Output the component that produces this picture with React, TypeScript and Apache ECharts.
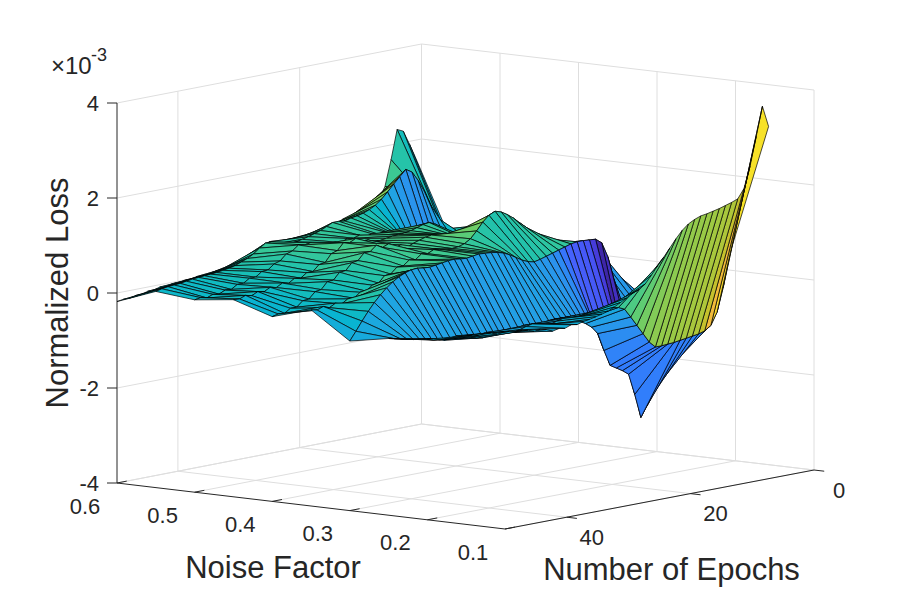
import React, { useEffect, useRef } from "react";
import * as echarts from "echarts";

// ---------- data ----------
const NOISE_LEVELS = [0.15, 0.2, 0.25, 0.3, 0.35, 0.4, 0.45, 0.5, 0.55, 0.6];
const EPOCHS = [1, 2, 3, 4, 5, 6, 7, 8, 9, 10, 11, 12, 13, 14, 15, 16, 17, 18, 19, 20, 21, 22, 23, 24, 25, 26, 27, 28, 29, 30, 31, 32, 33, 34, 35, 36, 37, 38, 39, 40, 41, 42, 43, 44, 45, 46, 47, 48, 49, 50];

// normalized loss (x 1e-3): one row per noise factor, one value per epoch
const LOSS_N015 = [3.16, 3.61, 3.0, 2.4, 1.95, 1.76, 1.71, 1.67, 1.63, 1.6, 1.57, 1.55, 1.5, 1.43, 1.32, 1.17, 1.0, 0.83, 0.67, 0.5, 0.34, 0.25, 0.2, 0.12, 0.05, -0.02, -0.08, -0.12, -0.15, -0.18, -0.2, -0.24, -0.22, -0.27, -0.25, -0.28, -0.22, -0.19, -0.21, -0.16, -0.14, -0.15, -0.11, -0.1, -0.12, -0.07, -0.05, -0.07, -0.04, -0.03];
const LOSS_N020 = [0.35, -0.3, -0.8, -1.05, -1.14, -1.18, -1.2, -1.22, -1.24, -1.26, -1.27, -1.28, -1.28, -1.15, -0.95, -0.75, -0.55, -0.36, -0.3, -0.28, -0.3, -0.33, -0.31, -0.29, -0.32, -0.35, -0.33, -0.31, -0.34, -0.38, -0.36, -0.32, -0.3, -0.33, -0.37, -0.4, -0.38, -0.35, -0.33, -0.36, -0.39, -0.37, -0.34, -0.31, -0.3, -0.28, -0.27, -0.26, -0.24, -0.2];
const LOSS_N025 = [-1.65, -1.66, -1.68, -1.9, -2.1, -2.32, -2.52, -2.74, -2.96, -2.45, -2.0, -1.9, -1.82, -1.74, -1.4, -1.02, -0.86, -0.76, -0.68, -0.62, -0.58, -0.55, -0.54, -0.55, -0.57, -0.58, -0.56, -0.55, -0.57, -0.6, -0.62, -0.6, -0.57, -0.55, -0.56, -0.58, -0.55, -0.52, -0.5, -0.52, -0.54, -0.5, -0.47, -0.45, -0.42, -0.4, -0.37, -0.34, -0.31, -0.28];
const LOSS_N030 = [-0.75, -0.72, -0.7, -0.68, -0.66, -0.65, -0.2, 0.3, 0.62, 0.72, 0.73, 0.74, 0.74, 0.72, 0.68, 0.64, 0.6, 0.56, 0.52, 0.49, 0.52, 0.58, 0.66, 0.74, 0.8, 0.84, 0.86, 0.87, 0.88, 0.86, 0.84, 0.85, 0.87, 0.86, 0.84, 0.82, 0.8, 0.81, 0.83, 0.82, 0.78, 0.72, 0.64, 0.54, 0.42, 0.28, 0.12, -0.06, -0.25, -0.43];
const LOSS_N035 = [-0.5, -0.1, 0.2, 0.3, 0.38, 0.43, 0.46, 0.45, 0.4, 0.37, 0.4, 0.55, 0.72, 0.88, 1.0, 1.12, 1.24, 1.34, 1.42, 1.46, 1.4, 1.28, 1.12, 0.98, 0.9, 0.86, 0.85, 0.86, 0.88, 0.9, 0.84, 0.86, 0.76, 0.78, 0.68, 0.68, 0.56, 0.55, 0.42, 0.4, 0.3, 0.3, 0.2, 0.21, 0.13, 0.17, 0.1, 0.15, 0.1, 0.13];
const LOSS_N040 = [-0.15, -0.15, -0.1, -0.1, 0.0, 0.15, 0.45, 0.5, 0.55, 0.58, 0.6, 0.62, 0.63, 0.62, 0.6, 0.62, 0.66, 0.7, 0.76, 0.82, 0.88, 0.92, 0.95, 0.96, 0.94, 0.9, 0.86, 0.8, 0.88, 0.84, 0.95, 0.9, 0.97, 0.86, 0.86, 0.72, 0.7, 0.56, 0.55, 0.41, 0.4, 0.26, 0.24, 0.11, 0.1, -0.01, -0.01, -0.09, -0.08, -0.11];
const LOSS_N045 = [0.28, 0.33, 0.4, 0.46, 0.52, 0.57, 0.55, 0.45, 0.35, 0.3, 0.32, 0.38, 0.45, 0.55, 0.66, 0.8, 0.92, 0.98, 0.96, 0.92, 0.88, 0.86, 0.85, 0.84, 0.82, 0.8, 0.8, 0.86, 0.82, 0.94, 0.88, 0.9, 0.76, 0.72, 0.56, 0.54, 0.42, 0.42, 0.33, 0.35, 0.27, 0.3, 0.23, 0.26, 0.19, 0.22, 0.16, 0.19, 0.14, 0.15];
const LOSS_N050 = [0.67, 0.6, 0.45, 0.1, -0.3, -0.6, -0.8, -0.85, -0.82, -0.7, -0.5, -0.3, -0.05, 0.2, 0.4, 0.52, 0.6, 0.66, 0.71, 0.69, 0.72, 0.68, 0.74, 0.7, 0.72, 0.66, 0.68, 0.64, 0.7, 0.7, 0.78, 0.76, 0.78, 0.68, 0.64, 0.52, 0.48, 0.38, 0.37, 0.28, 0.28, 0.2, 0.2, 0.12, 0.13, 0.07, 0.09, 0.04, 0.07, 0.05];
const LOSS_N055 = [-0.2, 0.0, 0.27, 0.55, 0.84, 1.15, 1.4, 1.6, 1.68, 1.55, 1.42, 1.28, 1.15, 1.05, 0.98, 0.93, 0.9, 0.88, 0.84, 0.86, 0.86, 0.8, 0.74, 0.7, 0.66, 0.63, 0.6, 0.6, 0.62, 0.66, 0.7, 0.7, 0.62, 0.52, 0.45, 0.4, 0.35, 0.32, 0.3, 0.28, 0.27, 0.26, 0.25, 0.24, 0.22, 0.2, 0.19, 0.18, 0.16, 0.13];
const LOSS_N060 = [1.64, 1.95, 2.24, 2.3, 1.69, 1.15, 0.9, 0.84, 0.81, 0.73, 0.71, 0.64, 0.63, 0.58, 0.56, 0.49, 0.47, 0.41, 0.39, 0.34, 0.35, 0.37, 0.41, 0.43, 0.46, 0.39, 0.35, 0.25, 0.21, 0.13, 0.11, 0.06, 0.06, 0.02, 0.03, 0.0, 0.02, -0.01, -0.01, -0.04, -0.03, -0.06, -0.05, -0.09, -0.09, -0.13, -0.13, -0.16, -0.16, -0.18];

const LOSS_ROWS = [LOSS_N015, LOSS_N020, LOSS_N025, LOSS_N030, LOSS_N035, LOSS_N040, LOSS_N045, LOSS_N050, LOSS_N055, LOSS_N060];

const Z_TICKS = [-4, -2, 0, 2, 4];
const Z_TICK_LABELS = ["-4", "-2", "0", "2", "4"];
const NOISE_TICKS = [0.6, 0.5, 0.4, 0.3, 0.2, 0.1];
const NOISE_TICK_LABELS = ["0.6", "0.5", "0.4", "0.3", "0.2", "0.1"];
const EPOCH_TICKS = [0, 20, 40];
const EPOCH_TICK_LABELS = ["0", "20", "40"];

const Z_TITLE = "Normalized Loss";
const NOISE_TITLE = "Noise Factor";
const EPOCH_TITLE = "Number of Epochs";
const EXP_BASE = "\u00d710";
const EXP_POWER = "-3";

// ---------- view (3-D box as seen on the page) ----------
const RANGE = { noise: [0.1, 0.6], epoch: [0, 50], z: [-4, 4] };
const FLOOR_BACK = [421.5, 424];
const FLOOR_RIGHT = [814, 470];
const FLOOR_FRONT = [505, 529];
const FLOOR_LEFT = [117, 483];
const Z_UNIT = 47.5;

function project(n: number, e: number, z: number): number[] {
  const u = (RANGE.noise[1] - n) / (RANGE.noise[1] - RANGE.noise[0]);
  const v = (e - RANGE.epoch[0]) / (RANGE.epoch[1] - RANGE.epoch[0]);
  const w = [(1 - u) * (1 - v), u * (1 - v), u * v, (1 - u) * v];
  const c = [FLOOR_BACK, FLOOR_RIGHT, FLOOR_FRONT, FLOOR_LEFT];
  let x = 0;
  let y = 0;
  for (let k = 0; k < 4; k++) {
    x += w[k] * c[k][0];
    y += w[k] * c[k][1];
  }
  return [x, y - (z - RANGE.z[0]) * Z_UNIT];
}

// parula colormap
const PARULA = [
  [0.2422, 0.1504, 0.6603], [0.2706, 0.2147, 0.8364], [0.2813, 0.3006, 0.9414], [0.2699, 0.3892, 0.9906],
  [0.1963, 0.4847, 0.9892], [0.1687, 0.5703, 0.9359], [0.1248, 0.6459, 0.8883], [0.0297, 0.7082, 0.8163],
  [0.0964, 0.75, 0.712], [0.2161, 0.7843, 0.5923], [0.3909, 0.8029, 0.4354], [0.6174, 0.7876, 0.2612],
  [0.8203, 0.7498, 0.1535], [0.9728, 0.7298, 0.2394], [0.9892, 0.8136, 0.1885], [0.9597, 0.9135, 0.1423],
  [0.9769, 0.9839, 0.0805],
];
const PARULA_POS = [0, 4, 8, 12, 16, 20, 24, 28, 32, 36, 40, 44, 48, 52, 56, 60, 63].map((k) => k / 63);

function parula(t: number): string {
  const tt = Math.max(0, Math.min(1, t));
  let k = 0;
  while (k < PARULA_POS.length - 2 && tt > PARULA_POS[k + 1]) k++;
  const f = (tt - PARULA_POS[k]) / (PARULA_POS[k + 1] - PARULA_POS[k]);
  const a = PARULA[k];
  const b = PARULA[k + 1];
  const ch = (i: number) => Math.round(255 * (a[i] + (b[i] - a[i]) * f));
  return `rgb(${ch(0)},${ch(1)},${ch(2)})`;
}

const FONT = "'Liberation Sans', Arial, Helvetica, sans-serif";
const TEXT_COLOR = "#262626";
const GRID_COLOR = "#dedede";

export default function App() {
  const ref = useRef<HTMLDivElement>(null);

  useEffect(() => {
    document.body.style.margin = "0";
    if (!ref.current) return;
    const chart = echarts.init(ref.current, undefined, { renderer: "svg" });

    let cMin = Infinity;
    let cMax = -Infinity;
    LOSS_ROWS.forEach((r) => r.forEach((v) => { cMin = Math.min(cMin, v); cMax = Math.max(cMax, v); }));

    const faces: { i: number; j: number; d: number }[] = [];
    for (let i = 0; i < NOISE_LEVELS.length - 1; i++) {
      for (let j = 0; j < EPOCHS.length - 1; j++) {
        let d = 0;
        [[i, j], [i + 1, j], [i + 1, j + 1], [i, j + 1]].forEach(([a, b]) => {
          d += project(NOISE_LEVELS[a], EPOCHS[b], RANGE.z[0])[1];
        });
        faces.push({ i, j, d });
      }
    }
    faces.sort((p, q) => p.d - q.d);
    const faceData = faces.map((f) => [f.i, f.j, LOSS_ROWS[f.i][f.j]]);

    const renderFace = (params: any, api: any) => {
      const i = api.value(0) as number;
      const j = api.value(1) as number;
      const pts = [[i, j], [i + 1, j], [i + 1, j + 1], [i, j + 1]].map(([a, b]) =>
        api.coord(project(NOISE_LEVELS[a], EPOCHS[b], LOSS_ROWS[a][b]))
      );
      return {
        type: "polygon",
        z2: params.dataIndex,
        shape: { points: pts },
        style: {
          fill: parula((api.value(2) - cMin) / (cMax - cMin)),
          stroke: "#000",
          lineWidth: 0.7,
          lineJoin: "round",
        },
      };
    };

    const renderFrame = (_params: any, api: any) => {
      const P = (n: number, e: number, z: number) => api.coord(project(n, e, z));
      const [n0, n1] = RANGE.noise;
      const [e0, e1] = RANGE.epoch;
      const [z0, z1] = RANGE.z;
      const children: any[] = [];
      const line = (a: number[], b: number[], color: string, w = 1) =>
        children.push({
          type: "line",
          shape: { x1: a[0], y1: a[1], x2: b[0], y2: b[1] },
          style: { stroke: color, lineWidth: w },
        });
      const text = (x: number, y: number, s: string, size: number, align: string, rot = 0) =>
        children.push({
          type: "text",
          x,
          y,
          rotation: rot,
          style: {
            text: s,
            fill: TEXT_COLOR,
            fontSize: size,
            fontFamily: FONT,
            align,
            verticalAlign: "middle",
            textAlign: align,
            textVerticalAlign: "middle",
          },
        });

      // back wall at max noise
      Z_TICKS.forEach((z) => line(P(n1, e0, z), P(n1, e1, z), GRID_COLOR));
      EPOCH_TICKS.forEach((e) => line(P(n1, e, z0), P(n1, e, z1), GRID_COLOR));
      // back wall at epoch 0
      Z_TICKS.forEach((z) => line(P(n1, e0, z), P(n0, e0, z), GRID_COLOR));
      NOISE_TICKS.forEach((n) => line(P(n, e0, z0), P(n, e0, z1), GRID_COLOR));
      // floor
      EPOCH_TICKS.forEach((e) => line(P(n1, e, z0), P(n0, e, z0), GRID_COLOR));
      NOISE_TICKS.forEach((n) => line(P(n, e0, z0), P(n, e1, z0), GRID_COLOR));

      // axis lines
      line(P(n1, e1, z0), P(n1, e1, z1), TEXT_COLOR);
      line(P(n1, e1, z0), P(n0, e1, z0), TEXT_COLOR);
      line(P(n0, e1, z0), P(n0, e0, z0), TEXT_COLOR);

      // ticks and tick labels
      Z_TICKS.forEach((z, k) => {
        const p = P(n1, e1, z);
        line(p, [p[0] - 10, p[1]], TEXT_COLOR);
        text(p[0] - 18, p[1], Z_TICK_LABELS[k], 22, "right");
      });
      NOISE_TICKS.forEach((n, k) => {
        const p = P(n, e1, z0);
        line(p, P(n, e1 - 1.6, z0), TEXT_COLOR);
        text(p[0] - 32, p[1] + 23, NOISE_TICK_LABELS[k], 22, "center");
      });
      EPOCH_TICKS.forEach((e, k) => {
        const p = P(n0, e, z0);
        line(p, P(n0 - 0.013, e, z0), TEXT_COLOR);
        text(p[0] + 25, p[1] + 20, EPOCH_TICK_LABELS[k], 22, "center");
      });

      // axis titles
      const zMid = P(n1, e1, (z0 + z1) / 2);
      text(zMid[0] - 60, zMid[1], Z_TITLE, 31, "center", Math.PI / 2);
      const nMid = P((n0 + n1) / 2, e1, z0);
      text(nMid[0] - 38, nMid[1] + 61, NOISE_TITLE, 31, "center");
      const eMid = P(n0, (e0 + e1) / 2, z0);
      text(eMid[0] + 12, eMid[1] + 70, EPOCH_TITLE, 31, "center");

      // exponent
      const zTop = P(n1, e1, z1);
      text(zTop[0] - 66, zTop[1] - 38, EXP_BASE, 24, "left");
      text(zTop[0] - 26, zTop[1] - 48, EXP_POWER, 18, "left");

      return { type: "group", children };
    };

    chart.setOption({
      animation: false,
      grid: { left: 0, right: 0, top: 0, bottom: 0 },
      xAxis: { type: "value", min: 0, max: 900, show: false },
      yAxis: { type: "value", min: 0, max: 594, inverse: true, show: false },
      series: [
        { type: "custom", name: "frame", silent: true, z: 1, data: [[0, 0]], renderItem: renderFrame },
        { type: "custom", name: "surface", silent: true, z: 2, data: faceData, renderItem: renderFace },
      ],
    });

    return () => chart.dispose();
  }, []);

  return <div ref={ref} style={{ width: 900, height: 594, background: "#fff" }} />;
}
